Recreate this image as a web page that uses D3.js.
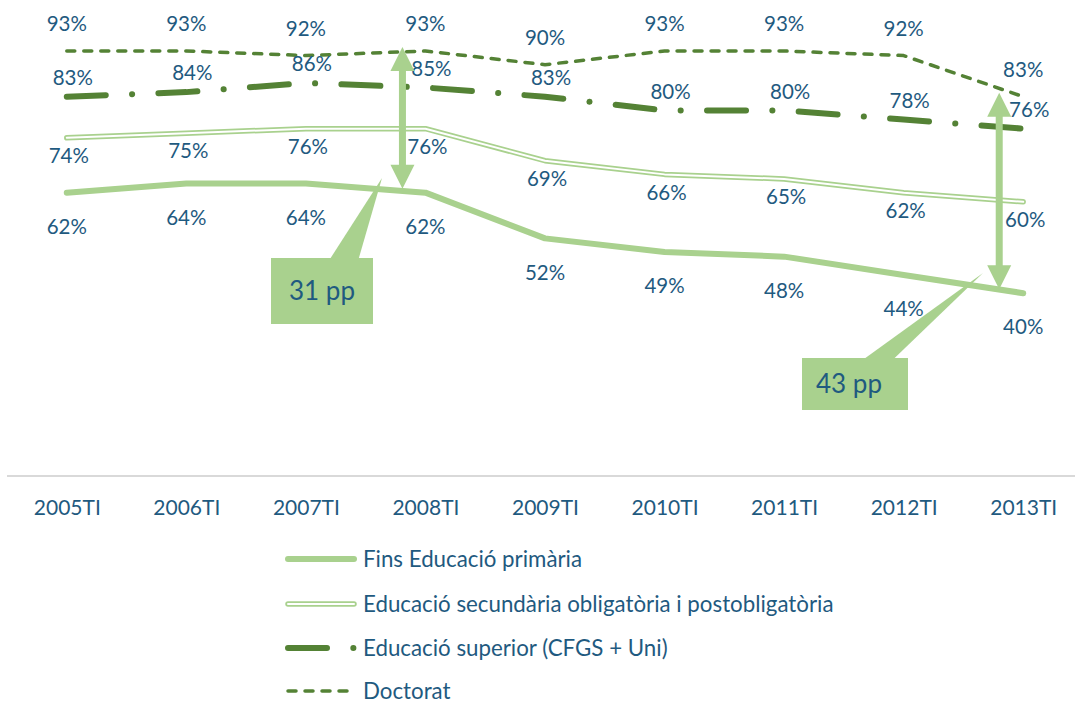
<!DOCTYPE html>
<html>
<head>
<meta charset="utf-8">
<script src="https://cdn.jsdelivr.net/npm/d3@7"></script>
<style>
  body { margin: 0; background: #fff; }
  svg text { font-family: Lato, "Noto Sans", sans-serif; fill: #1f5a80; }
</style>
</head>
<body>
<div id="chart"></div>
<script>
var categories = ["2005TI", "2006TI", "2007TI", "2008TI", "2009TI", "2010TI", "2011TI", "2012TI", "2013TI"];
var primaria   = [62, 64, 64, 62, 52, 49, 48, 44, 40];
var secundaria = [74, 75, 76, 76, 69, 66, 65, 62, 60];
var superior   = [83, 84, 86, 85, 83, 80, 80, 78, 76];
var doctorat   = [93, 93, 92, 93, 90, 93, 93, 92, 83];

var seriesNames = [
  "Fins Educació primària",
  "Educació secundària obligatòria i postobligatòria",
  "Educació superior (CFGS + Uni)",
  "Doctorat"
];

// gaps between doctorat and primaria that are annotated
var gapCategories = ["2008TI", "2013TI"];
var gapLabels = ["31 pp", "43 pp"];

var svgWidth = 1075;
var svgHeight = 704;

var lightGreen = "#a9d18e";
var darkGreen = "#548235";

var svg = d3.select("#chart")
  .append("svg")
  .attr("width", svgWidth)
  .attr("height", svgHeight);

// scales
var xScale = d3.scalePoint()
  .domain(categories)
  .range([7, 1083])
  .padding(0.5);

var yScale = d3.scaleLinear()
  .domain([0, 100])
  .range([476, 19]);

// x axis: only the baseline and the labels
var xAxis = d3.axisBottom(xScale).tickSize(0).tickPadding(24);
var axisG = svg.append("g")
  .attr("transform", "translate(0, " + yScale(0) + ")")
  .call(xAxis);
axisG.select(".domain").remove();
axisG.append("line")
  .attr("x1", 7).attr("x2", svgWidth)
  .attr("stroke", "#d9d9d9").attr("stroke-width", 2);
axisG.selectAll(".tick text")
  .attr("font-size", 21)
  .attr("fill", "#1f5a80")
  .style("font-family", "Lato, sans-serif");

var line = d3.line()
  .x((d, i) => xScale(categories[i]))
  .y(d => yScale(d));

// label offsets per series
var series = [
  { values: primaria,   labelDy: 34,  labelDx: 0 },
  { values: secundaria, labelDy: 18,  labelDx: 2 },
  { values: superior,   labelDy: -19, labelDx: 6 },
  { values: doctorat,   labelDy: -27, labelDx: 0 }
];

function drawSeries(g, idx, path) {
  if (idx === 0) {
    g.append("path").attr("d", path).attr("fill", "none")
      .attr("stroke", lightGreen).attr("stroke-width", 6)
      .attr("stroke-linecap", "round").attr("stroke-linejoin", "round");
  } else if (idx === 1) {
    g.append("path").attr("d", path).attr("fill", "none")
      .attr("stroke", lightGreen).attr("stroke-width", 5.5)
      .attr("stroke-linecap", "round").attr("stroke-linejoin", "round");
    g.append("path").attr("d", path).attr("fill", "none")
      .attr("stroke", "#fff").attr("stroke-width", 2)
      .attr("stroke-linecap", "round").attr("stroke-linejoin", "round");
  } else if (idx === 2) {
    g.append("path").attr("d", path).attr("fill", "none")
      .attr("stroke", darkGreen).attr("stroke-width", 6)
      .attr("stroke-dasharray", "39,26.3,0.1,26.3")
      .attr("stroke-linecap", "round").attr("stroke-linejoin", "round");
  } else {
    g.append("path").attr("d", path).attr("fill", "none")
      .attr("stroke", darkGreen).attr("stroke-width", 3.5)
      .attr("stroke-dasharray", "8,9")
      .attr("stroke-linecap", "round").attr("stroke-linejoin", "round");
  }
}

var linesG = svg.append("g");
series.forEach(function(s, i) {
  drawSeries(linesG, i, line(s.values));
});

// data labels
var labelsG = svg.append("g");
series.forEach(function(s) {
  labelsG.selectAll(null)
    .data(s.values)
    .enter().append("text")
    .attr("x", (d, i) => xScale(categories[i]) + s.labelDx)
    .attr("y", d => yScale(d) + s.labelDy)
    .attr("dy", "0.35em")
    .attr("text-anchor", "middle")
    .attr("font-size", 20.5)
    .text(d => d + "%");
});

// double headed arrows showing the gap
function arrowPath(x, y1, y2) {
  var hl = 24, hw = 12, sw = 3.5;
  return "M" + x + "," + y1 +
    "L" + (x + hw) + "," + (y1 + hl) +
    "L" + (x + sw) + "," + (y1 + hl) +
    "L" + (x + sw) + "," + (y2 - hl) +
    "L" + (x + hw) + "," + (y2 - hl) +
    "L" + x + "," + y2 +
    "L" + (x - hw) + "," + (y2 - hl) +
    "L" + (x - sw) + "," + (y2 - hl) +
    "L" + (x - sw) + "," + (y1 + hl) +
    "L" + (x - hw) + "," + (y1 + hl) + "Z";
}

// callout boxes (layout only)
var callouts = [
  { arrowDx: -23, box: [271, 258, 102, 66], wedge: [[330, 259], [358.6, 259], [382, 178]], textX: 322, anchor: "middle" },
  { arrowDx: -24, box: [802, 358, 106, 52], wedge: [[864, 359], [893.6, 359], [983, 273]], textX: 816, anchor: "start" }
];

var annoG = svg.append("g");
gapCategories.forEach(function(c, k) {
  var i = categories.indexOf(c);
  var co = callouts[k];
  var ax = xScale(c) + co.arrowDx;
  annoG.append("path")
    .attr("d", arrowPath(ax, yScale(doctorat[i]) - 4, yScale(primaria[i]) - 4))
    .attr("fill", lightGreen);
  annoG.append("path")
    .attr("d", d3.line()(co.wedge) + "Z")
    .attr("fill", lightGreen);
  annoG.append("rect")
    .attr("x", co.box[0]).attr("y", co.box[1])
    .attr("width", co.box[2]).attr("height", co.box[3])
    .attr("fill", lightGreen);
  annoG.append("text")
    .attr("x", co.textX)
    .attr("y", co.box[1] + co.box[3] / 2)
    .attr("dy", "0.35em")
    .attr("text-anchor", co.anchor)
    .attr("font-size", 26)
    .text(gapLabels[k]);
});

// legend
var legendY = [559, 604, 648, 691];
var legendG = svg.append("g");
seriesNames.forEach(function(name, i) {
  var y = legendY[i];
  var lp = "M288," + y + "L354," + y;
  drawSeries(legendG, i, lp);
  legendG.append("text")
    .attr("x", 363)
    .attr("y", y)
    .attr("dy", "0.35em")
    .attr("font-size", 22.3)
    .text(name);
});
</script>
</body>
</html>
